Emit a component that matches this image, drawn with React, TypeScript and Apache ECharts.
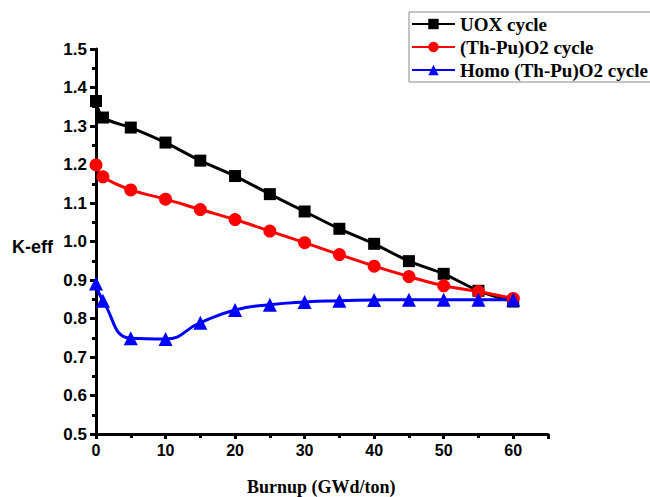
import React, { useEffect, useRef } from "react";
import * as echarts from "echarts";

const burnup = [0, 1, 5, 10, 15, 20, 25, 30, 35, 40, 45, 50, 55, 60];
const uox = [1.365, 1.322, 1.296, 1.257, 1.21, 1.17, 1.123, 1.078, 1.033, 0.994, 0.949, 0.916, 0.872, 0.844];
const thpu = [1.199, 1.168, 1.134, 1.11, 1.083, 1.057, 1.027, 0.997, 0.966, 0.936, 0.909, 0.885, 0.87, 0.852];
const homo = [0.891, 0.846, 0.749, 0.747, 0.789, 0.822, 0.836, 0.843, 0.846, 0.848, 0.849, 0.849, 0.849, 0.849];
const seriesNames = ["UOX cycle", "(Th-Pu)O2 cycle", "Homo (Th-Pu)O2 cycle"];

const pairs = (ys: number[]) => burnup.map((x, i) => [x, ys[i]]);

export default function App() {
  const ref = useRef<HTMLDivElement>(null);
  useEffect(() => {
    if (!ref.current) return;
    const chart = echarts.init(ref.current, null, { renderer: "svg" });
    const axisFont = { fontFamily: "Liberation Sans, Arial, sans-serif", fontWeight: "bold" as const, fontSize: 16, color: "#000" };
    const mk = (name: string, data: number[], color: string, symbol: string, size: number, smooth: number) => ({
      type: "line",
      name,
      data: pairs(data),
      smooth,
      symbol,
      symbolSize: size,
      showAllSymbol: true,
      clip: false,
      lineStyle: { color, width: 3 },
      itemStyle: { color },
    });
    chart.setOption({
      animation: false,
      backgroundColor: "#fff",
      grid: { left: 96, right: 102, top: 49, bottom: 63, containLabel: false },
      legend: {
        orient: "vertical",
        left: 409,
        top: 12,
        borderColor: "#888",
        borderWidth: 1,
        padding: [2, 4, 2, 2],
        itemGap: 3,
        itemWidth: 43,
        itemHeight: 13,
        data: seriesNames,
        textStyle: {
          fontFamily: "Liberation Serif, Times New Roman, serif",
          fontWeight: "bold",
          fontSize: 19,
          lineHeight: 20,
          color: "#000",
        },
      },
      xAxis: {
        type: "value",
        min: 0,
        max: 65,
        interval: 10,
        splitLine: { show: false },
        axisLine: { show: true, lineStyle: { color: "#000", width: 3 } },
        axisTick: { show: true, inside: false, length: 5, lineStyle: { color: "#000", width: 3 } },
        minorTick: { show: true, splitNumber: 2, length: 4, lineStyle: { color: "#000", width: 3 } },
        axisLabel: { ...axisFont, margin: 8, showMaxLabel: false, formatter: (v: number) => (v > 60 ? "" : String(v)) },
      },
      yAxis: {
        type: "value",
        min: 0.5,
        max: 1.5,
        interval: 0.1,
        splitLine: { show: false },
        axisLine: { show: true, lineStyle: { color: "#000", width: 3 } },
        axisTick: { show: true, inside: false, length: 6, lineStyle: { color: "#000", width: 3 } },
        minorTick: { show: true, splitNumber: 2, length: 4, lineStyle: { color: "#000", width: 3 } },
        axisLabel: { ...axisFont, fontSize: 17, margin: 9, formatter: (v: number) => v.toFixed(1) },
      },
      graphic: [
        {
          type: "text",
          left: 12,
          top: 238,
          style: { text: "K-eff", font: "bold 18px 'Liberation Sans', Arial, sans-serif", fill: "#000" },
        },
        {
          type: "text",
          left: 247,
          top: 478,
          style: { text: "Burnup (GWd/ton)", font: "bold 18px 'Liberation Serif', 'Times New Roman', serif", fill: "#000" },
        },
      ],
      series: [
        mk(seriesNames[0], uox, "#000000", "rect", 12, 0.3),
        mk(seriesNames[1], thpu, "#ff0000", "circle", 13, 0.3),
        mk(seriesNames[2], homo, "#0000ff", "triangle", 14, 0.5),
      ],
    });
    return () => chart.dispose();
  }, []);
  return <div ref={ref} style={{ width: 650, height: 497, position: "absolute", left: 0, top: 0 }} />;
}
